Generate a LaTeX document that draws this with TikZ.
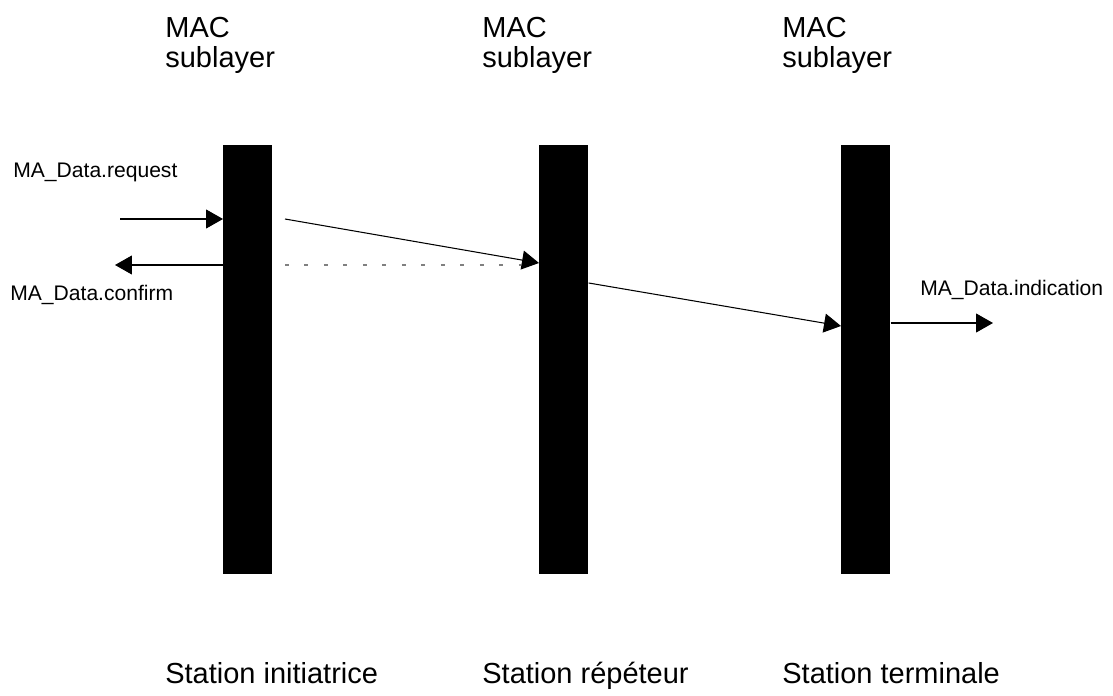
\documentclass[tikz,border=0pt]{standalone}
\usepackage{fontspec}
\setmainfont{Liberation Sans}
\usetikzlibrary{arrows.meta,calc}

\begin{document}
\begin{tikzpicture}[x=0.02cm,y=-0.02cm,
  msg/.style={-{Triangle[length=0.34cm,width=0.38cm]},line width=0.6pt},
  bar/.style={fill=black,inner sep=0,minimum width=0.98cm,minimum height=8.58cm,anchor=north west},
  big/.style={font=\fontsize{16.5}{17}\selectfont,align=left,inner sep=0},
  small/.style={font=\fontsize{12}{14}\selectfont,anchor=base west,inner sep=0}]
  \useasboundingbox (0,0) rectangle (1113,696);

  % stations
  \foreach \name/\x/\tx/\title in {init/223/165/Station initiatrice,
                                   rep/539/482/Station répéteur,
                                   term/841/782/Station terminale} {
    \node[bar] (\name) at (\x,145) {};
    \node[big,anchor=north west] (\name-mac) at (\tx,17) {MAC\\sublayer};
    \node[big,anchor=base west] (\name-lbl) at (\tx,683) {\title};
  }

  % primitives
  \node[small] (req) at (13,177) {MA\_Data.request};
  \node[small] (conf) at (10,300) {MA\_Data.confirm};
  \node[small] (ind) at (920,295) {MA\_Data.indication};

  \coordinate (reqin) at (120,219);
  \coordinate (confout) at (115,265);
  \coordinate (indout) at (993,323);
  \coordinate (fwd) at (285,219);
  \coordinate (back) at (285,265);

  \draw[msg] (reqin) -- (reqin -| init.west);
  \draw[msg] (confout -| init.west) -- (confout);
  \draw[msg] (fwd) -- ($(rep.north west)+(0,118)$);
  \draw[gray,line width=0.6pt,dash pattern=on 0.08cm off 0.31cm] (back) -- ($(rep.north west)+(-18,120)$);
  \draw[msg] ($(rep.north east)+(0,138)$) -- ($(term.north west)+(0,181)$);
  \draw[msg] (indout -| term.east) -- (indout);
\end{tikzpicture}
\end{document}
